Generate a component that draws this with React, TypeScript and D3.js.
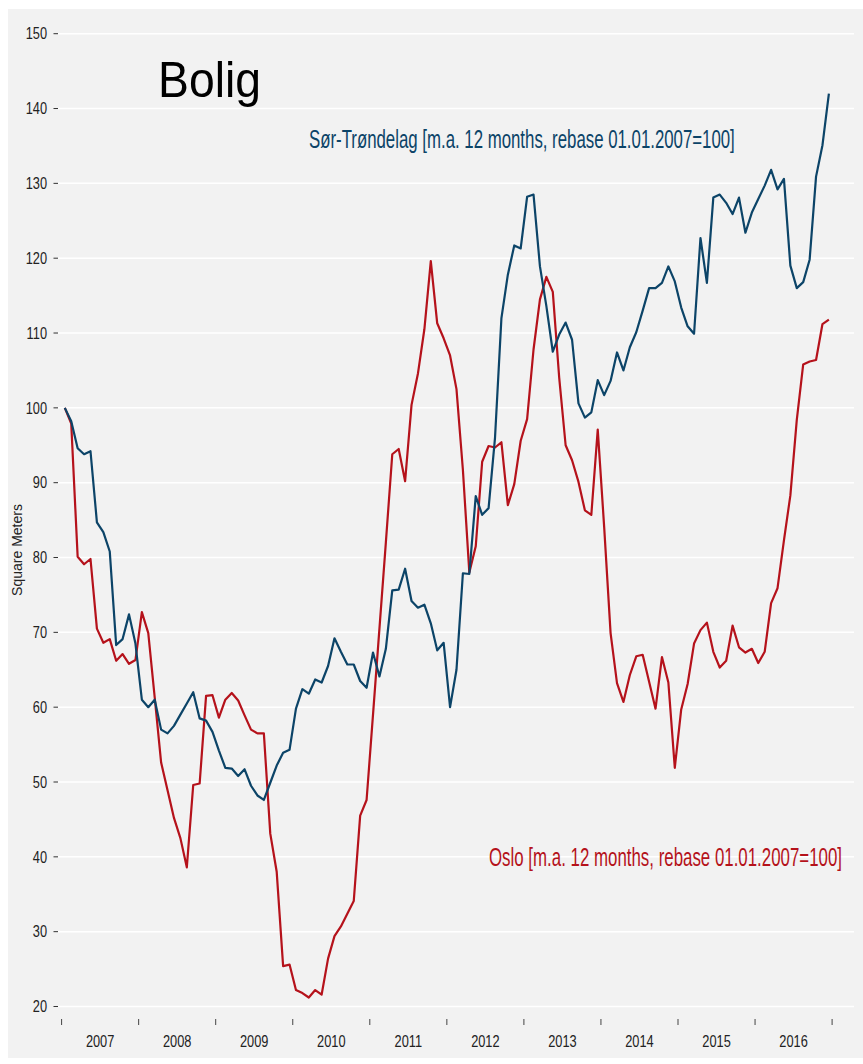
import React, { useLayoutEffect, useRef, useState } from "react";
import * as d3 from "d3";

const years = ["2007", "2008", "2009", "2010", "2011", "2012", "2013", "2014", "2015", "2016"];
const yTicks = [20, 30, 40, 50, 60, 70, 80, 90, 100, 110, 120, 130, 140, 150];

// Monthly values Jan 2007 .. Dec 2016
const sorTrondelag = [
  100, 98.2, 94.6, 93.8, 94.2, 84.7, 83.4, 80.8, 68.3, 69.1, 72.4, 68.5,
  61, 60, 61, 57, 56.5, 57.5, 59, 60.5, 62, 58.5, 58.2, 56.7,
  54.2, 51.9, 51.8, 50.8, 51.7, 49.5, 48.2, 47.6, 49.9, 52.2, 53.9, 54.3,
  59.8, 62.4, 61.8, 63.7, 63.3, 65.5, 69.2, 67.4, 65.7, 65.7, 63.5, 62.6,
  67.3, 64.1, 67.8, 75.6, 75.7, 78.5, 74.2, 73.3, 73.7, 71.2, 67.6, 68.6,
  60, 65, 77.9, 77.8, 88.2, 85.7, 86.6, 96, 112, 117.8, 121.7, 121.3,
  128.2, 128.5, 118.9, 113.6, 107.5, 109.8, 111.4, 109.1, 100.6, 98.7, 99.4, 103.7,
  101.7, 103.6, 107.4, 105, 108.1, 110.1, 113, 116, 116, 116.7, 118.9, 116.9,
  113.4, 110.9, 109.9, 122.7, 116.7, 128.1, 128.5, 127.4, 125.9, 128.1, 123.4, 126.1,
  127.9, 129.7, 131.8, 129.2, 130.6, 119, 116, 116.8, 119.8, 130.9, 135.1, 142,
];

const oslo = [
  100, 97.9, 80.1, 79.1, 79.8, 70.5, 68.6, 69.1, 66.2, 67.1, 65.8, 66.3,
  72.7, 69.9, 61.3, 52.6, 48.9, 45.2, 42.5, 38.6, 49.6, 49.8, 61.5, 61.6,
  58.6, 61, 61.9, 60.9, 58.9, 57, 56.5, 56.5, 43.1, 38, 25.4, 25.6,
  22.2, 21.8, 21.2, 22.2, 21.6, 26.4, 29.4, 30.7, 32.4, 34.1, 45.5, 47.6,
  59, 70.5, 82, 93.8, 94.5, 90.2, 100.4, 104.6, 110.5, 119.6, 111.3, 109.3,
  107, 102.5, 91.7, 78, 81.5, 92.8, 94.9, 94.7, 95.4, 87, 89.8, 95.6,
  98.5, 107.8, 114.5, 117.5, 115.5, 104, 95, 93, 90.1, 86.3, 85.7, 97.1,
  84.1, 69.9, 63.2, 60.7, 64.3, 66.8, 67, 63.4, 59.8, 66.7, 63.3, 51.9,
  59.7, 63.1, 68.5, 70.3, 71.3, 67.4, 65.3, 66.2, 70.9, 68, 67.3, 67.8,
  65.9, 67.4, 73.9, 75.9, 82.3, 88.3, 98.4, 105.8, 106.2, 106.4, 111.2, 111.8,
];

const BLUE = "#0c4468";
const RED = "#b5121b";
const SANS = "'Liberation Sans', Arial, sans-serif";

// Text horizontally squeezed to a target width (condensed look), left-anchored
function FitText(props: {
  x: number;
  y: number;
  width: number;
  fontSize: number;
  fill: string;
  children: string;
}) {
  const ref = useRef<SVGTextElement>(null);
  const [sx, setSx] = useState(0.75);
  useLayoutEffect(() => {
    if (ref.current) {
      const w = ref.current.getComputedTextLength();
      if (w > 0) setSx(props.width / w);
    }
  }, [props.width, props.children]);
  return (
    <text
      ref={ref}
      transform={`translate(${props.x},${props.y}) scale(${sx},1)`}
      fontFamily={SANS}
      fontSize={props.fontSize}
      fill={props.fill}
    >
      {props.children}
    </text>
  );
}

export default function App() {
  const W = 863;
  const H = 1064;
  const x = d3.scaleLinear().domain([0, 120]).range([61.6, 832.1]);
  const y = d3.scaleLinear().domain([20, 150]).range([1006.5, 33.7]);

  const line = d3
    .line<number>()
    .x((_, i) => x(i + 0.5))
    .y((d) => y(d));

  const narrow = 0.8;

  return (
    <svg
      width={W}
      height={H}
      style={{ position: "absolute", left: 0, top: 0, display: "block" }}
    >
      <rect x={8} y={9} width={W - 8} height={1049} fill="#f2f2f2" />
      {yTicks.map((t) => (
        <g key={t}>
          <line x1={58} x2={854} y1={y(t)} y2={y(t)} stroke="#ffffff" strokeWidth={1.5} />
          <line x1={53.5} x2={58} y1={y(t)} y2={y(t)} stroke="#333" strokeWidth={1} />
          <text
            transform={`translate(47,${y(t)}) scale(${narrow},1)`}
            dy="0.36em"
            textAnchor="end"
            fontFamily={SANS}
            fontSize={16}
            fill="#222"
          >
            {t}
          </text>
        </g>
      ))}
      {d3.range(0, 121, 12).map((m) => (
        <line key={m} x1={x(m)} x2={x(m)} y1={1019} y2={1025} stroke="#444" strokeWidth={1} />
      ))}
      {years.map((yr, k) => (
        <text
          key={yr}
          transform={`translate(${x(k * 12 + 6)},1047) scale(${narrow},1)`}
          textAnchor="middle"
          fontFamily={SANS}
          fontSize={16}
          fill="#222"
        >
          {yr}
        </text>
      ))}
      <text
        transform="translate(22,550) rotate(-90)"
        textAnchor="middle"
        fontFamily={SANS}
        fontSize={14}
        fill="#222"
      >
        Square Meters
      </text>
      <path d={line(oslo) || ""} fill="none" stroke={RED} strokeWidth={2.2} strokeLinejoin="round" />
      <path d={line(sorTrondelag) || ""} fill="none" stroke={BLUE} strokeWidth={2.2} strokeLinejoin="round" />
      <FitText x={158} y={97} width={103} fontSize={50} fill="#000">
        Bolig
      </FitText>
      <FitText x={309} y={148} width={426} fontSize={26} fill={BLUE}>
        Sør-Trøndelag [m.a. 12 months, rebase 01.01.2007=100]
      </FitText>
      <FitText x={489} y={866} width={353} fontSize={26} fill={RED}>
        Oslo [m.a. 12 months, rebase 01.01.2007=100]
      </FitText>
    </svg>
  );
}
